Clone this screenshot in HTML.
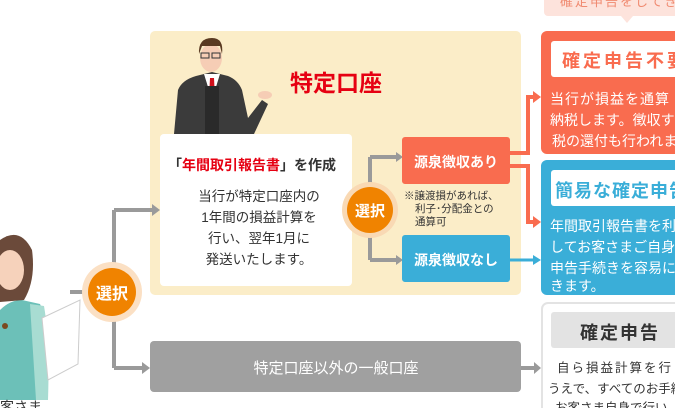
<!DOCTYPE html>
<html><head><meta charset="utf-8"><style>
html,body{margin:0;padding:0;background:#fff;width:675px;height:408px;overflow:hidden}
svg text{font-family:"Liberation Sans","Noto Sans CJK JP",sans-serif}
</style></head><body>
<svg width="675" height="408" viewBox="0 0 675 408" xmlns="http://www.w3.org/2000/svg">
<rect x="544" y="-6" width="140" height="22" rx="4" fill="#fde3dc"/>
<polygon points="621,16 633,16 627,23" fill="#fde3dc"/>
<text x="560" y="6" font-size="13" fill="#f08a70" letter-spacing="2">確定申告をしてきま</text>

<rect x="150" y="31" width="371" height="264" rx="5" fill="#fbedc8"/>
<g>
<path d="M174 134 L178 90 Q182 80 196 76 L212 72 L228 76 Q238 80 242 90 L248 118 L262 100 L268 104 L254 134 Z" fill="#3b3b3b"/>
<polygon points="204,74 212,100 220,74" fill="#fff"/>
<polygon points="210,78 214,78 215,98 212,104 209,98" fill="#d0101b"/>
<rect x="205" y="86" width="14" height="48" fill="#2a2a2a"/>
<ellipse cx="211" cy="58" rx="11" ry="14" fill="#f6cdb5"/>
<path d="M199 54 Q198 38 212 38 Q224 38 222 54 L220 46 L202 46 Z" fill="#5a3a22"/>
<rect x="201" y="53" width="8" height="5" fill="none" stroke="#333" stroke-width="1"/>
<rect x="212" y="53" width="8" height="5" fill="none" stroke="#333" stroke-width="1"/>
<ellipse cx="265" cy="95" rx="7" ry="4" fill="#f6cdb5"/>
</g>
<text x="290" y="91" font-size="23" font-weight="bold" fill="#e60012">特定口座</text>

<rect x="160" y="134" width="192" height="152" rx="4" fill="#fff"/>
<text x="168" y="170" font-size="14" font-weight="bold" fill="#333">「<tspan fill="#e60012">年間取引報告書</tspan>」を作成</text>
<g font-size="13.5" fill="#333" text-anchor="middle">
<text x="259" y="201">当行が特定口座内の</text>
<text x="259" y="222">1年間の損益計算を</text>
<text x="259" y="243">行い、翌年1月に</text>
<text x="259" y="264">発送いたします。</text>
</g>

<g stroke="#9a9a9a" stroke-width="4" fill="none">
<path d="M70 292 H90"/>
<path d="M114 210 V368"/>
<path d="M114 210 H152"/>
<path d="M114 368 H142"/>
<path d="M370 157 V260"/>
<path d="M370 157 H396"/>
<path d="M370 260 H396"/>
<path d="M521 368 H535"/>
</g>
<g fill="#9a9a9a">
<polygon points="152,204 160,210 152,216"/>
<polygon points="142,362 150,368 142,374"/>
<polygon points="396,152 403,157 396,162"/>
<polygon points="396,255 403,260 396,265"/>
<polygon points="534,362 541,368 534,374"/>
</g>
<g stroke="#f96c4f" stroke-width="4" fill="none">
<path d="M510 153 H528 V97 H534"/>
<path d="M510 166 H528 V222 H534"/>
</g>
<g fill="#f96c4f">
<polygon points="533,91 541,97 533,103"/>
<polygon points="533,216 541,222 533,228"/>
</g>
<path d="M510 260 H534" stroke="#3aaed8" stroke-width="3"/>
<polygon points="533,255 541,260 533,265" fill="#3aaed8"/>

<circle cx="112" cy="292" r="30" fill="#fbe0c4"/>
<circle cx="112" cy="292" r="24" fill="#f08300"/>
<text x="112" y="299" font-size="16" font-weight="bold" fill="#fff" text-anchor="middle">選択</text>
<circle cx="370" cy="210" r="28" fill="#f9d9b4"/>
<circle cx="370" cy="210" r="23" fill="#f08300"/>
<text x="370" y="216" font-size="15" font-weight="bold" fill="#fff" text-anchor="middle">選択</text>

<rect x="402" y="137" width="108" height="47" rx="3" fill="#f96c4f"/>
<text x="456" y="167" font-size="14" font-weight="bold" fill="#fff" text-anchor="middle">源泉徴収あり</text>
<g font-size="10.5" fill="#333">
<text x="404" y="199">※譲渡損があれば、</text>
<text x="415" y="212">利子･分配金との</text>
<text x="415" y="225">通算可</text>
</g>
<rect x="402" y="235" width="108" height="47" rx="3" fill="#3aaed8"/>
<text x="456" y="265" font-size="14" font-weight="bold" fill="#fff" text-anchor="middle">源泉徴収なし</text>

<rect x="150" y="341" width="371" height="51" rx="4" fill="#a0a0a0"/>
<text x="336" y="373" font-size="15" fill="#fff" text-anchor="middle">特定口座以外の一般口座</text>

<rect x="541" y="31" width="145" height="123" rx="6" fill="#f96c4f"/>
<rect x="551" y="41" width="130" height="36" rx="3" fill="#fff"/>
<text x="562" y="67" font-size="18" font-weight="bold" fill="#f96c4f" letter-spacing="3">確定申告不要</text>
<g font-size="14" fill="#fff">
<text x="550" y="104" letter-spacing="1">当行が損益を通算</text>
<text x="550" y="125">納税します。徴収す</text>
<text x="552" y="146">税の還付も行われま</text>
</g>
<rect x="541" y="160" width="145" height="135" rx="6" fill="#3aaed8"/>
<rect x="551" y="170" width="130" height="36" rx="3" fill="#fff"/>
<text x="555" y="197" font-size="18" font-weight="bold" fill="#3aaed8" letter-spacing="1">簡易な確定申告</text>
<g font-size="14" fill="#fff">
<text x="550" y="231">年間取引報告書を利</text>
<text x="550" y="252">してお客さまご自身</text>
<text x="550" y="273">申告手続きを容易に</text>
<text x="550" y="291">きます。</text>
</g>
<rect x="542" y="303" width="145" height="120" rx="6" fill="#fff" stroke="#e3e3e3" stroke-width="2"/>
<rect x="551" y="312" width="130" height="36" rx="3" fill="#e3e3e3"/>
<text x="580" y="339" font-size="18" font-weight="bold" fill="#333" letter-spacing="2">確定申告</text>
<g font-size="12.5" fill="#333">
<text x="557" y="372" letter-spacing="2">自ら損益計算を行</text>
<text x="548" y="393">うえで、すべてのお手続</text>
<text x="555" y="412">お客さま自身で行い</text>
</g>

<g>
<path d="M0 310 Q10 300 22 300 L40 304 Q48 320 46 360 L48 400 L0 400 Z" fill="#6cc0b8"/>
<path d="M30 304 L44 306 Q50 340 48 400 L36 400 Z" fill="#a8dcd2"/>
<path d="M0 240 Q20 226 32 250 Q36 280 24 300 L0 302 Z" fill="#6b4a3a"/>
<ellipse cx="10" cy="270" rx="14" ry="20" fill="#f6d2bb"/>
<polygon points="42,318 80,300 78,364 48,380" fill="#fff" stroke="#ccc"/>
<circle cx="5" cy="326" r="3" fill="#7a4a20"/>
</g>
<text x="0" y="412" font-size="14" fill="#333">客さま</text>
</svg>
</body></html>
